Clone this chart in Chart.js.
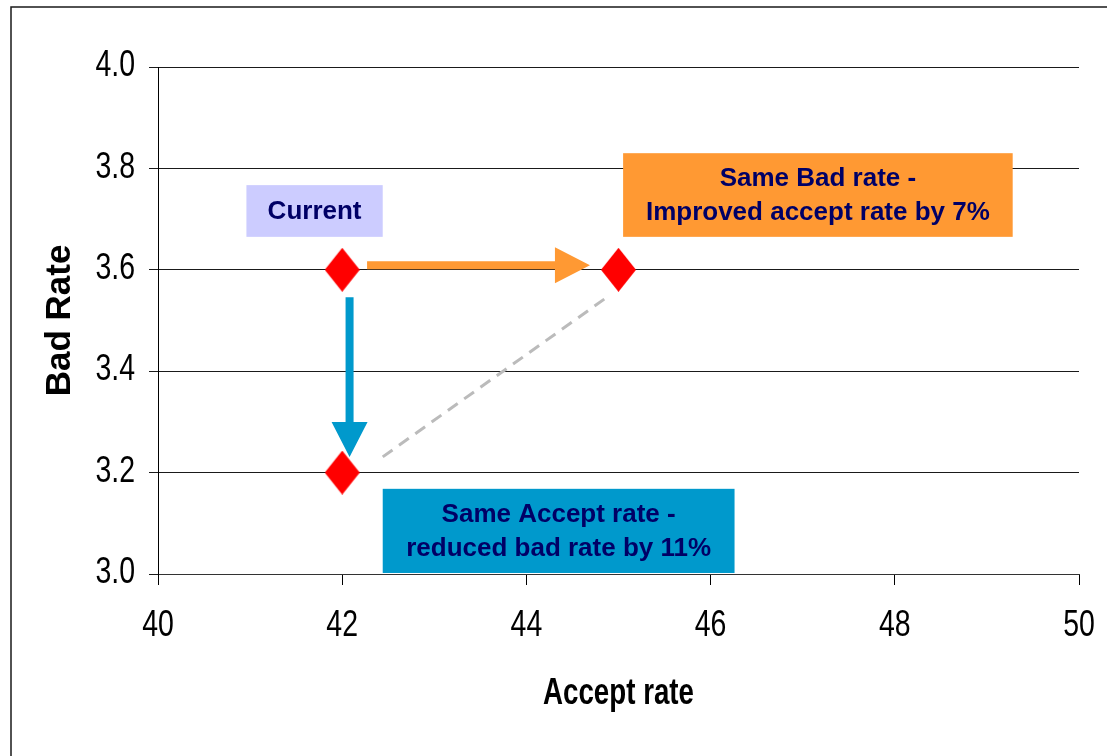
<!DOCTYPE html>
<html>
<head>
<meta charset="utf-8">
<title>Bad Rate vs Accept rate</title>
<script src="https://cdn.jsdelivr.net/npm/chart.js@4.4.1/dist/chart.umd.min.js"></script>
<style>
  html, body { margin: 0; padding: 0; background: #ffffff; }
  #wrap { width: 1107px; height: 756px; position: relative; }
</style>
</head>
<body>
<div id="wrap"><canvas id="c" width="1107" height="756"></canvas></div>
<script>
// Scenario points: current strategy and the two alternatives
const acceptRate = [42, 45, 42];
const badRate = [3.6, 3.6, 3.2];

// Axis ranges and tick labels
const xTickValues = [40, 42, 44, 46, 48, 50];
const yTickValues = [3.0, 3.2, 3.4, 3.6, 3.8, 4.0];
const xTitle = 'Accept rate';
const yTitle = 'Bad Rate';

// Callout text
const currentLabel = ['Current'];
const sameBadLabel = ['Same Bad rate -', 'Improved accept rate by 7%'];
const sameAcceptLabel = ['Same Accept rate -', 'reduced bad rate by 11%'];

const NAVY = '#000066';
const ORANGE = '#FF9933';
const BLUE = '#0099CC';
const LAVENDER = '#CCCCFF';
const SANS = "'Liberation Sans', Arial, sans-serif";
const NARROW = 0.77; // horizontal squeeze for the narrow axis lettering

// Tall red diamond marker
function diamond(w, h, color) {
  const c = document.createElement('canvas');
  c.width = w; c.height = h;
  const g = c.getContext('2d');
  g.fillStyle = color;
  g.beginPath();
  g.moveTo(w / 2, 0);
  g.lineTo(w, h / 2);
  g.lineTo(w / 2, h);
  g.lineTo(0, h / 2);
  g.closePath();
  g.fill();
  return c;
}
const marker = diamond(35, 44, '#FF0000');

// Callouts, arrows and the guide line, placed in data units
const callouts = [
  { x0: 40.96, x1: 42.44, y0: 3.767, y1: 3.665, fill: LAVENDER, lines: currentLabel },
  { x0: 45.05, x1: 49.28, y0: 3.830, y1: 3.665, fill: ORANGE, lines: sameBadLabel },
  { x0: 42.44, x1: 46.26, y0: 3.168, y1: 3.002, fill: BLUE, lines: sameAcceptLabel }
];
const arrows = [
  { from: [42.27, 3.609], to: [44.69, 3.609], color: ORANGE },
  { from: [42.08, 3.546], to: [42.08, 3.231], color: BLUE }
];
const guide = { from: [42.44, 3.231], to: [44.875, 3.546] };

// narrow text: draws s squeezed horizontally around its anchor
function narrowText(ctx, s, x, y, align) {
  ctx.save();
  ctx.translate(x, y);
  ctx.scale(NARROW, 1);
  ctx.textAlign = align;
  ctx.fillText(s, 0, 0);
  ctx.restore();
}

const decorations = {
  id: 'decorations',
  beforeDraw(chart) {
    const ctx = chart.ctx;
    ctx.save();
    ctx.fillStyle = '#ffffff';
    ctx.fillRect(0, 0, chart.width, chart.height);
    ctx.strokeStyle = '#1a1a1a';
    ctx.lineWidth = 1.5;
    ctx.beginPath();
    ctx.moveTo(11, chart.height + 5);
    ctx.lineTo(11, 7);
    ctx.lineTo(chart.width + 5, 7);
    ctx.stroke();
    ctx.restore();
  },
  beforeDatasetsDraw(chart) {
    const ctx = chart.ctx;
    const xs = chart.scales.x, ys = chart.scales.y;
    const px = v => xs.getPixelForValue(v);
    const py = v => ys.getPixelForValue(v);
    ctx.save();

    // dashed guide between the two alternatives
    ctx.strokeStyle = '#BBBBBB';
    ctx.lineWidth = 3;
    ctx.setLineDash([12, 8]);
    ctx.beginPath();
    ctx.moveTo(px(guide.from[0]), py(guide.from[1]));
    ctx.lineTo(px(guide.to[0]), py(guide.to[1]));
    ctx.stroke();
    ctx.setLineDash([]);

    // callout boxes
    callouts.forEach(b => {
      const l = px(b.x0), r = px(b.x1), t = py(b.y0), bt = py(b.y1);
      ctx.fillStyle = b.fill;
      ctx.fillRect(l, t, r - l, bt - t);
      ctx.fillStyle = NAVY;
      ctx.font = 'bold 26px ' + SANS;
      ctx.textAlign = 'center';
      ctx.textBaseline = 'middle';
      const lh = 34;
      const cx = (l + r) / 2, cy = (t + bt) / 2 + 1;
      b.lines.forEach((s, i) => {
        ctx.fillText(s, cx, cy + (i - (b.lines.length - 1) / 2) * lh);
      });
    });

    // block arrows
    const shaft = 8, headLen = 35, headW = 36;
    arrows.forEach(a => {
      const x0 = px(a.from[0]), y0 = py(a.from[1]);
      const x1 = px(a.to[0]), y1 = py(a.to[1]);
      const ang = Math.atan2(y1 - y0, x1 - x0);
      const len = Math.hypot(x1 - x0, y1 - y0);
      ctx.save();
      ctx.translate(x0, y0);
      ctx.rotate(ang);
      ctx.fillStyle = a.color;
      ctx.beginPath();
      ctx.moveTo(0, -shaft / 2);
      ctx.lineTo(len - headLen, -shaft / 2);
      ctx.lineTo(len - headLen, -headW / 2);
      ctx.lineTo(len, 0);
      ctx.lineTo(len - headLen, headW / 2);
      ctx.lineTo(len - headLen, shaft / 2);
      ctx.lineTo(0, shaft / 2);
      ctx.closePath();
      ctx.fill();
      ctx.restore();
    });
    ctx.restore();
  },
  afterDraw(chart) {
    // tick labels and x title in narrow lettering, from the scales' own ticks
    const ctx = chart.ctx;
    const xs = chart.scales.x, ys = chart.scales.y;
    const area = chart.chartArea;
    ctx.save();
    ctx.fillStyle = '#000000';
    ctx.font = '37px ' + SANS;
    ctx.textBaseline = 'middle';
    xs.ticks.forEach((t, i) => {
      narrowText(ctx, String(t.value), xs.getPixelForTick(i), 626, 'center');
    });
    ys.ticks.forEach((t, i) => {
      narrowText(ctx, Number(t.value).toFixed(1), 135, ys.getPixelForTick(i) - 1, 'right');
    });
    ctx.font = 'bold 36px ' + SANS;
    narrowText(ctx, xTitle, (area.left + area.right) / 2, 694, 'center');
    ctx.restore();
  }
};

new Chart(document.getElementById('c'), {
  type: 'scatter',
  data: {
    datasets: [{
      label: 'Scenarios',
      data: acceptRate.map((x, i) => ({ x: x, y: badRate[i] })),
      pointStyle: marker,
      pointRadius: 18,
      pointHoverRadius: 18,
      backgroundColor: '#FF0000',
      borderColor: '#FF0000'
    }]
  },
  options: {
    responsive: false,
    animation: false,
    devicePixelRatio: 1,
    layout: { padding: { left: 0, top: 67, right: 28, bottom: 0 } },
    plugins: {
      legend: { display: false },
      tooltip: { enabled: false },
      title: { display: false }
    },
    scales: {
      x: {
        type: 'linear',
        min: xTickValues[0],
        max: xTickValues[xTickValues.length - 1],
        afterBuildTicks(scale) { scale.ticks = xTickValues.map(v => ({ value: v })); },
        afterFit(scale) { scale.height = 756 - 574; },
        ticks: { display: false },
        grid: {
          drawOnChartArea: false,
          drawTicks: true,
          tickLength: 11,
          color: '#000000',
          lineWidth: 1
        },
        border: { display: true, color: '#333333', width: 1 }
      },
      y: {
        type: 'linear',
        min: yTickValues[0],
        max: yTickValues[yTickValues.length - 1],
        afterBuildTicks(scale) { scale.ticks = yTickValues.map(v => ({ value: v })); },
        afterFit(scale) { scale.width = 158; },
        ticks: { display: false },
        grid: {
          drawTicks: true,
          tickLength: 9,
          color: '#1a1a1a',
          lineWidth: 1
        },
        border: { display: true, color: '#000000', width: 1 },
        title: {
          display: true,
          text: yTitle,
          color: '#000000',
          font: { family: SANS, size: 35, weight: 'bold' },
          padding: { top: 39, bottom: 0 }
        }
      }
    }
  },
  plugins: [decorations]
});
</script>
</body>
</html>
